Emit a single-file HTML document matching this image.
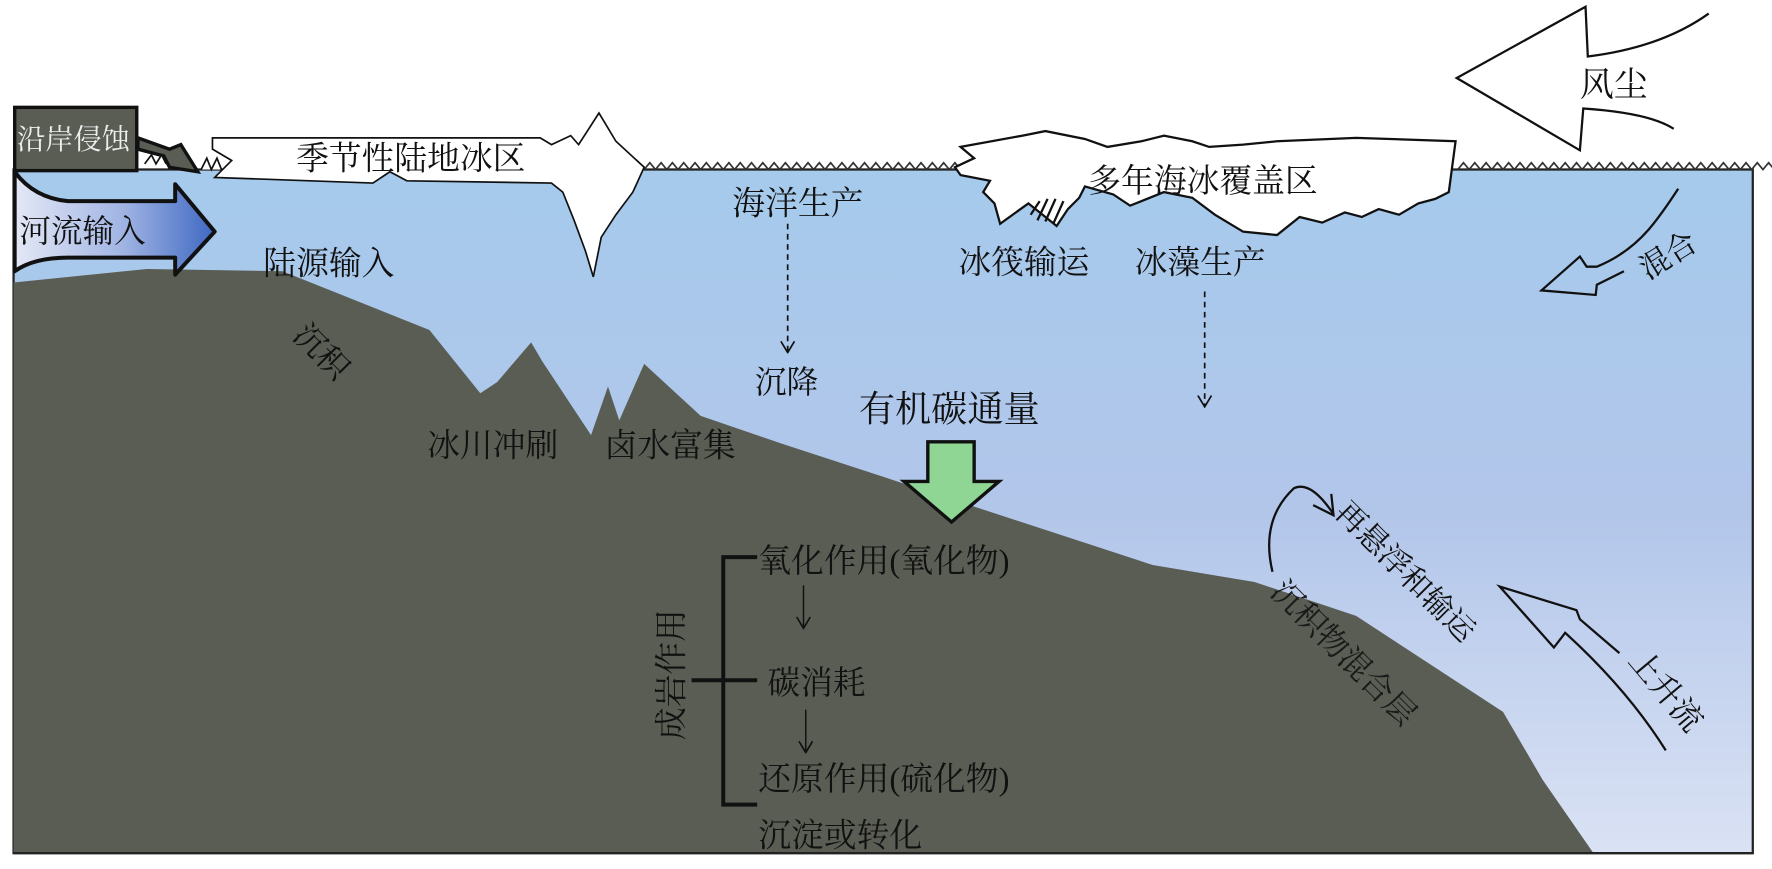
<!DOCTYPE html>
<html><head><meta charset="utf-8"><style>
html,body{margin:0;padding:0;background:#fff;}
svg{display:block;}
text{font-family:"Liberation Serif","Noto Serif CJK SC","Noto Sans CJK SC",serif;fill:#111;}
</style></head><body>
<svg width="1772" height="869" viewBox="0 0 1568 769" preserveAspectRatio="none" xmlns="http://www.w3.org/2000/svg">
<defs>
<linearGradient id="w" x1="0" y1="0" x2="0" y2="1">
<stop offset="0" stop-color="#a5caec"/><stop offset="0.5" stop-color="#b2c6ea"/><stop offset="1" stop-color="#dae2f4"/>
</linearGradient>
<linearGradient id="r" x1="0" y1="0" x2="1" y2="0">
<stop offset="0" stop-color="#e4e8f6"/><stop offset="0.55" stop-color="#9fb3e3"/><stop offset="1" stop-color="#3f68c2"/>
</linearGradient>
<marker id="ah" markerWidth="12" markerHeight="14" refX="11" refY="7" orient="auto" markerUnits="userSpaceOnUse"><path d="M1,1 L11,7 L1,13" fill="none" stroke="#111" stroke-width="1.5"/></marker>
</defs>
<rect x="12" y="150" width="1539" height="605" fill="url(#w)" stroke="#222" stroke-width="2"/>
<path d="M12,250 L130,238 L250,240 L380,292 L425,348 L440,338 L470,303 L480,320 L523,385 L538,342 L548,372 L570,322 L620,368 L690,392 L1020,500 L1110,515 L1200,545 L1330,630 L1365,690 L1410,755 L12,755 Z" fill="#5a5d54"/>
<line x1="12" y1="755" x2="1551" y2="755" stroke="#222" stroke-width="2"/>
<path d="M570,150 l5,-6 l5,6 l5,-6 l5,6 l5,-6 l5,6 l5,-6 l5,6 l5,-6 l5,6 l5,-6 l5,6 l5,-6 l5,6 l5,-6 l5,6 l5,-6 l5,6 l5,-6 l5,6 l5,-6 l5,6 l5,-6 l5,6 l5,-6 l5,6 l5,-6 l5,6 l5,-6 l5,6 l5,-6 l5,6 l5,-6 l5,6 l5,-6 l5,6 l5,-6 l5,6 l5,-6 l5,6 l5,-6 l5,6 l5,-6 l5,6 l5,-6 l5,6 l5,-6 l5,6 l5,-6 l5,6 l5,-6 l5,6 l5,-6 l5,6 l5,-6 l5,6 l5,-6 l5,6 l5,-6 l5,6 l5,-6 l5,6" fill="none" stroke="#333" stroke-width="1.5"/>
<path d="M1290,150 l5,-6 l5,6 l5,-6 l5,6 l5,-6 l5,6 l5,-6 l5,6 l5,-6 l5,6 l5,-6 l5,6 l5,-6 l5,6 l5,-6 l5,6 l5,-6 l5,6 l5,-6 l5,6 l5,-6 l5,6 l5,-6 l5,6 l5,-6 l5,6 l5,-6 l5,6 l5,-6 l5,6 l5,-6 l5,6 l5,-6 l5,6 l5,-6 l5,6 l5,-6 l5,6 l5,-6 l5,6 l5,-6 l5,6 l5,-6 l5,6 l5,-6 l5,6 l5,-6 l5,6 l5,-6 l5,6 l5,-6 l5,6 l5,-6 l5,6 l5,-6 l5,6 l5,-6 l5,6 l5,-6 l5,6 l5,-6 l5,6 l5,-6 l5,6" fill="none" stroke="#333" stroke-width="1.5"/>
<path d="M188,122 L478,122 L488,128 L505,120 L512,128 L530,100 L545,125 L570,148 L560,170 L545,190 L532,210 L525,245 L518,222 L508,195 L498,170 L488,162 L360,160 L345,152 L330,162 L190,157 L205,142 L188,132 Z" fill="#fff" stroke="#111" stroke-width="1.5"/>
<path d="M178,150 l5,-10 l4,10 l5,-10 l4,10" fill="#fff" stroke="#111" stroke-width="1.5"/>
<rect x="13" y="95" width="108" height="56" fill="#5a5d54" stroke="#111" stroke-width="3"/>
<path d="M122,122 L150,132 L160,128 L175,152 L150,148 L145,138 L122,132 Z" fill="#5a5d54" stroke="#111" stroke-width="3"/>
<path d="M128,145 l6,-8 l4,8 l5,-8 l4,8" fill="#fff" stroke="#111" stroke-width="1.5"/>
<text x="15" y="132" font-size="25" style="fill:#eee">沿岸侵蚀</text>
<path d="M13,152 Q30,175 60,178 L155,178 L155,163 L190,205 L155,243 L155,228 L60,228 Q30,228 13,240 Z" fill="url(#r)" stroke="#111" stroke-width="3.5" stroke-linejoin="round"/>
<text x="17" y="214" font-size="28">河流输入</text>
<path d="M850,130 L905,120 L925,116 L960,123 L980,130 L1010,125 L1030,120 L1055,125 L1070,130 L1100,128 L1130,125 L1200,122 L1288,125 L1282,170 L1270,176 L1255,180 L1238,190 L1220,185 L1205,192 L1190,188 L1170,197 L1150,192 L1130,208 L1100,205 L1075,190 L1055,175 L1030,170 L1000,182 L985,172 L960,165 L955,175 L945,185 L935,200 L910,180 L885,198 L880,180 L870,170 L876,160 L850,155 L845,148 L862,140 Z" fill="#fff" stroke="#111" stroke-width="2"/>
<g stroke="#111" stroke-width="2"><line x1="920" y1="178" x2="912" y2="190"/><line x1="927" y1="176" x2="918" y2="195"/><line x1="934" y1="176" x2="925" y2="196"/><line x1="941" y1="178" x2="932" y2="198"/></g>
<path d="M1512,12 Q1470,42 1405,50 L1403,6 L1289,69 L1398,133 L1401,96 Q1460,100 1481,114" fill="#fff" stroke="#111" stroke-width="2"/>
<text x="1398" y="85" font-size="30">风尘</text>
<path d="M1485,167 Q1470,190 1459,203 Q1440,225 1413,236 L1404,236 L1398,227 L1364,257 L1412,261 L1413,252 L1437,240" fill="none" stroke="#111" stroke-width="2"/>
<text transform="translate(1458,248) rotate(-32)" font-size="27">混合</text>
<text x="262" y="150" font-size="29">季节性陆地冰区</text>
<text x="648" y="190" font-size="29">海洋生产</text>
<text x="233" y="243" font-size="29">陆源输入</text>
<text x="963" y="170" font-size="29">多年海冰覆盖区</text>
<text x="848" y="242" font-size="29">冰筏输运</text>
<text x="1004" y="242" font-size="29">冰藻生产</text>
<text transform="translate(258,298) rotate(45)" font-size="28">沉积</text>
<text x="668" y="348" font-size="28">沉降</text>
<text x="760" y="373" font-size="32">有机碳通量</text>
<text x="378" y="404" font-size="29">冰川冲刷</text>
<text x="535" y="404" font-size="29">卤水富集</text>
<line x1="697" y1="198" x2="697" y2="312" stroke="#111" stroke-width="1.5" stroke-dasharray="5,4" marker-end="url(#ah)"/>
<line x1="1066" y1="258" x2="1066" y2="360" stroke="#111" stroke-width="1.5" stroke-dasharray="5,4" marker-end="url(#ah)"/>
<path d="M821,391 L862,391 L862,426 L884,426 L842,462 L800,426 L821,426 Z" fill="#8fd694" stroke="#111" stroke-width="3"/>
<text x="671" y="506" font-size="29">氧化作用(氧化物)</text>
<text x="679" y="614" font-size="29">碳消耗</text>
<text x="671" y="699" font-size="29">还原作用(硫化物)</text>
<text x="671" y="749" font-size="29">沉淀或转化</text>
<text transform="translate(604,655) rotate(-90)" font-size="29">成岩作用</text>
<path d="M670,493 L640,493 L640,712 L670,712 M612,602 L670,602" fill="none" stroke="#111" stroke-width="3.5"/>
<line x1="711" y1="518" x2="711" y2="556" stroke="#111" stroke-width="1.3" marker-end="url(#ah)"/>
<line x1="713" y1="628" x2="713" y2="666" stroke="#111" stroke-width="1.3" marker-end="url(#ah)"/>
<path d="M1126,506 Q1115,460 1145,432 Q1160,425 1180,455" fill="none" stroke="#111" stroke-width="2"/>
<path d="M1162,447 L1180,456 L1178,437" fill="none" stroke="#111" stroke-width="2"/>
<text transform="translate(1180,455) rotate(45)" font-size="27">再悬浮和输运</text>
<text transform="translate(1123,525) rotate(45)" font-size="28" style="fill:#1a1a1a">沉积物混合层</text>
<path d="M1433,578 L1398,548 L1395,540 L1327,519 L1375,573 L1385,560 Q1440,610 1474,664" fill="none" stroke="#111" stroke-width="2"/>
<text transform="translate(1440,585) rotate(50)" font-size="28">上升流</text>
</svg>
</body></html>
